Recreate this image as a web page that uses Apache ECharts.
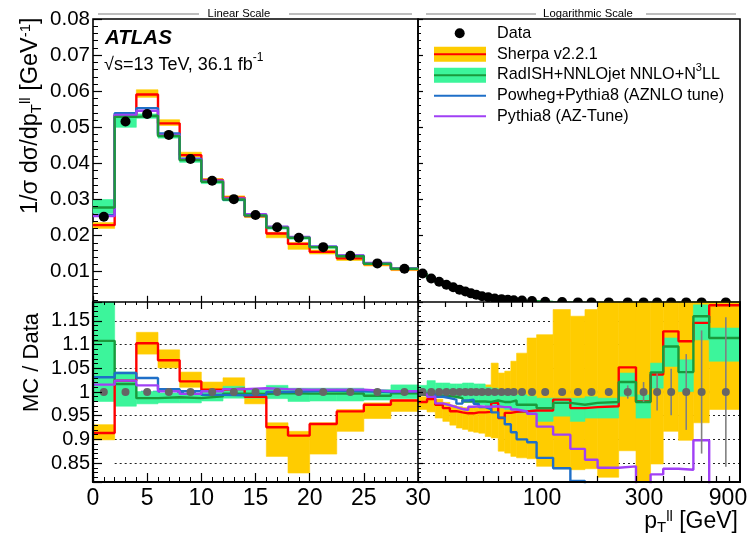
<!DOCTYPE html>
<html><head><meta charset="utf-8">
<script src="https://cdn.jsdelivr.net/npm/echarts@6/dist/echarts.min.js"></script>
<style>html,body{margin:0;padding:0;background:#fff}#c{width:752px;height:541px}</style>
</head><body><div id="c"></div>
<script>
// ---------------- data ----------------
const edgesLin = [0,2,4,6,8,10,12,14,16,18,20,22.5,25,27.5,30];
const edgesLog = [30,33,36,39,42,45,48,51,54,57,61,65,70,75,80,85,95,105,125,150,175,200,250,300,350,400,470,550,650,900];

// upper panel: 1/sigma dsigma/dpT
const dataLin = [0.0252,0.0516,0.0537,0.0479,0.0412,0.0352,0.0301,0.0257,0.0223,0.0194,0.0168,0.0144,0.0123,0.0108];
const dataLog = [0.0095,0.0081,0.0072,0.0064,0.0057,0.0050,0.0045,0.0040,0.0036,0.0032,0.0029,0.0026,0.0024,0.0022,0.0021,0.0020,0.0019,0.0017,0.0016,0.0015,0.0015,0.0015,0.0015,0.0015,0.0015,0.0015,0.0015,0.0015,0.0015];
const topSherpa   = [0.0229,0.0534,0.0591,0.0511,0.0423,0.0354,0.0305,0.0254,0.0206,0.0177,0.0155,0.0137,0.0121,0.0107];
const topSherpaLo = [0.0220,0.0524,0.0583,0.0505,0.0418,0.0349,0.0300,0.0250,0.0194,0.0162,0.0149,0.0131,0.0116,0.0103];
const topSherpaHi = [0.0236,0.0539,0.0604,0.0521,0.0431,0.0358,0.0310,0.0259,0.0209,0.0181,0.0160,0.0142,0.0123,0.0109];
const topRadish   = [0.0278,0.0529,0.0532,0.0476,0.0409,0.0349,0.0300,0.0256,0.0222,0.0194,0.0168,0.0143,0.0122,0.0108];
const topRadishLo = [0.0262,0.0500,0.0525,0.0470,0.0403,0.0344,0.0296,0.0252,0.0218,0.0190,0.0165,0.0141,0.0120,0.0106];
const topRadishHi = [0.0300,0.0534,0.0537,0.0480,0.0413,0.0353,0.0304,0.0260,0.0226,0.0197,0.0171,0.0146,0.0124,0.0110];
const topPowheg   = [0.0257,0.0539,0.0553,0.0483,0.0413,0.0350,0.0299,0.0256,0.0223,0.0195,0.0169,0.0144,0.0123,0.0108];
const topPythia   = [0.0254,0.0534,0.0546,0.0479,0.0410,0.0352,0.0303,0.0259,0.0225,0.0196,0.0169,0.0145,0.0124,0.0109];
const topRadishLog = [0.0094,0.0081,0.0071,0.0063,0.0056,0.0049,0.0044,0.0039,0.0035,0.0031,0.0028,0.0025,0.0023,0.0021,0.0020,0.0019,0.0018,0.0016,0.0015,0.0014,0.0014,0.0014,0.0014,0.0014,0.0014,0.0014,0.0014,0.0014,0.0014];

// lower panel: MC / Data
const rSherpaLin   = [0.9135,1.024,1.103,1.067,1.0225,1.005,1.007,0.990,0.9255,0.908,0.9325,0.959,0.973,0.982];
const rSherpaLoLin = [0.899,1.015,1.080,1.051,1.010,1.001,0.998,0.975,0.864,0.829,0.869,0.917,0.944,0.959];
const rSherpaHiLin = [0.931,1.040,1.126,1.089,1.042,1.021,1.030,1.000,0.935,0.917,0.935,0.963,0.977,0.984];
const rRadishLin   = [1.108,1.017,0.987,0.989,0.987,0.991,0.9965,0.996,0.998,0.9965,0.9965,0.997,0.992,0.997];
const rRadishLoLin = [0.980,0.970,0.975,0.977,0.977,0.981,0.987,0.987,0.986,0.980,0.981,0.981,0.983,0.986];
const rRadishHiLin = [1.200,1.042,1.001,0.998,0.996,1.001,1.012,1.005,1.014,1.008,1.008,1.008,1.005,1.015];
const rPowhegLin   = [1.031,1.040,1.0295,1.006,1.0015,0.994,0.993,0.994,1.000,1.0015,1.003,1.0015,1.000,1.0015];
const rPythiaLin   = [1.0155,1.024,1.014,1.0015,0.996,1.0015,1.006,1.008,1.006,1.005,1.005,1.005,1.0015,1.0015];

const rSherpaLog   = [0.979,0.985,0.973,0.966,0.9595,0.957,0.955,0.955,0.957,0.957,0.958,0.977,0.945,0.956,0.958,0.959,0.961,0.961,0.984,0.966,0.968,0.970,1.052,0.980,1.037,1.128,1.107,1.146,1.183];
const rSherpaLoLog = [0.963,0.958,0.945,0.938,0.930,0.924,0.921,0.917,0.915,0.913,0.906,0.903,0.875,0.871,0.864,0.861,0.859,0.843,0.838,0.836,0.838,0.820,0.876,0.800,0.848,0.917,0.898,0.935,0.963];
const rSherpaHiLog = [0.990,0.997,0.985,0.978,0.972,0.969,0.967,0.967,0.969,0.969,1.015,1.061,1.040,1.044,1.065,1.082,1.114,1.121,1.174,1.160,1.174,1.200,1.200,1.200,1.200,1.200,1.200,1.200,1.200];
const rRadishLog   = [0.994,0.995,0.992,0.991,0.990,0.987,0.980,0.980,0.980,0.980,0.979,0.982,0.979,0.979,0.982,0.973,0.973,0.966,0.977,0.973,0.977,0.979,1.021,0.979,1.0415,1.096,1.042,1.160,1.114];
const rRadishLoLog = [0.994,0.994,0.994,0.994,0.990,0.987,0.980,0.980,0.975,0.973,0.970,0.970,0.966,0.963,0.963,0.956,0.952,0.938,0.949,0.938,0.945,0.945,0.991,0.945,1.008,1.054,1.001,1.110,1.065];
const rRadishHiLog = [1.014,1.024,1.019,1.019,1.017,1.017,1.019,1.019,1.017,1.017,1.010,1.008,1.005,1.001,1.001,0.994,0.991,0.987,0.987,0.987,0.990,0.987,1.040,0.994,1.061,1.114,1.068,1.184,1.135];
const rPowhegLog   = [0.997,0.996,0.990,0.987,0.984,0.9755,0.982,0.984,0.975,0.968,0.964,0.957,0.946,0.932,0.915,0.900,0.894,0.861,0.839,0.812,0.790,0.770,0.750,0.740,0.730,0.720,0.710,0.700,0.700];
const rPythiaLog   = [0.996,0.990,0.976,0.972,0.968,0.964,0.962,0.969,0.970,0.969,0.969,0.970,0.968,0.968,0.963,0.959,0.954,0.927,0.910,0.880,0.857,0.840,0.843,0.790,0.826,0.838,0.836,0.898,0.790];
const dataErrLog   = [0.002,0.002,0.002,0.002,0.002,0.002,0.002,0.002,0.002,0.002,0.002,0.002,0.003,0.003,0.003,0.003,0.003,0.004,0.004,0.005,0.006,0.008,0.014,0.021,0.039,0.049,0.080,0.130,0.158];

// tick labels
const topYTicks   = [0.01,0.02,0.03,0.04,0.05,0.06,0.07,0.08];
const ratioYTicks = [0.85,0.9,0.95,1,1.05,1.1,1.15];
const ratioGridLines = [0.85,0.9,0.95,1.05,1.1,1.15];
const logXLabels  = [100,300,900];
const logXTicks   = [40,50,60,70,80,90,100,200,300,400,500,600,700,800];

// ---------------- styling ----------------
const FONT = "'Liberation Sans', Arial, Helvetica, sans-serif";
const C = {sherpa:'#ff0000', sherpaBand:'#ffcc00', radish:'#1a9a3c', radishBand:'#3cf59b',
           powheg:'#1f6fc8', pythia:'#a040f5', ratioPt:'#666666', err:'#808080'};

const centers = e => e.slice(0,-1).map((v,i)=>(v+e[i+1])/2);
const stepData = (e,v) => { const d = v.map((y,i)=>[e[i],y]); d.push([e[e.length-1], v[v.length-1]]); return d; };

function band(xi, yi, edges, lo, hi, color, z){
  return {type:'custom', xAxisIndex:xi, yAxisIndex:yi, z, silent:true, animation:false,
    data: lo.map((l,i)=>[edges[i], edges[i+1], l, hi[i]]),
    encode:{x:[0,1], y:[2,3]},
    renderItem(params, api){
      const p0 = api.coord([api.value(0), api.value(3)]);
      const p1 = api.coord([api.value(1), api.value(2)]);
      const cs = params.coordSys;
      const shape = echarts.graphic.clipRectByRect(
        {x:p0[0], y:p0[1], width:p1[0]-p0[0], height:p1[1]-p0[1]},
        {x:cs.x, y:cs.y, width:cs.width, height:cs.height});
      return shape && {type:'rect', shape, style:{fill:color, stroke:color, lineWidth:0.6}};
    }};
}
function step(xi, yi, edges, vals, color, z, w){
  return {type:'line', step:'end', xAxisIndex:xi, yAxisIndex:yi, z, silent:true, animation:false,
    data: stepData(edges, vals), showSymbol:false, symbol:'none', clip:true,
    lineStyle:{color, width:w||2.4}};
}
function points(xi, yi, edges, vals, color, size, z){
  const cx = centers(edges);
  return {type:'scatter', xAxisIndex:xi, yAxisIndex:yi, z, silent:true, animation:false,
    data: vals.map((v,i)=>[cx[i], v]), symbol:'circle', symbolSize:size,
    itemStyle:{color, opacity:1}};
}
function errBars(xi, yi, edges, errs, z){
  const cx = centers(edges);
  return {type:'custom', xAxisIndex:xi, yAxisIndex:yi, z, silent:true, animation:false,
    data: errs.map((e,i)=>[cx[i], 1-e, 1+e]),
    renderItem(params, api){
      const a = api.coord([api.value(0), api.value(1)]);
      const b = api.coord([api.value(0), api.value(2)]);
      const cs = params.coordSys;
      const y1 = Math.max(cs.y, Math.min(cs.y+cs.height, a[1]));
      const y2 = Math.max(cs.y, Math.min(cs.y+cs.height, b[1]));
      return {type:'line', shape:{x1:a[0], y1, x2:a[0], y2}, style:{stroke:C.err, lineWidth:1.6}};
    }};
}
function gridLines(xi, yi, x0, x1, z){
  return {type:'line', xAxisIndex:xi, yAxisIndex:yi, z, data:[], silent:true, animation:false,
    markLine:{silent:true, symbol:'none', animation:false, label:{show:false},
      lineStyle:{color:'#222', width:1.2, type:[2,3]},
      data: ratioGridLines.map(v=>[{coord:[x0,v]},{coord:[x1,v]}])}};
}
function unityLine(xi, yi, dashed, z){
  return {type:'line', xAxisIndex:xi, yAxisIndex:yi, z, data:[], silent:true, animation:false,
    markLine:{silent:true, symbol:'none', animation:false, label:{show:false},
      lineStyle:{color:C.powheg, width:2.4, type: dashed ? [7,5] : 'solid'},
      data:[{yAxis:1}]}};
}

const tick = (len, extra) => Object.assign({show:true, inside:true, length:len, lineStyle:{color:'#000', width:1.2}}, extra||{});
const minor = (len, n) => ({show:true, splitNumber:n||5, length:len, lineStyle:{color:'#000', width:1}});
const noLine = {show:false};
const frameLine = w => ({show:true, onZero:false, lineStyle:{color:'#000', width:w||2}});

const xAxis = [
  {gridIndex:0, type:'value', min:0, max:30, interval:5, axisLine:noLine, axisLabel:{show:false},
   axisTick:tick(12), minorTick:minor(6), splitLine:{show:false}, z:3},
  {gridIndex:1, type:'log', min:30, max:900, axisLine:noLine, axisLabel:{show:false},
   axisTick:tick(6,{customValues:logXTicks}), splitLine:{show:false}, z:3},
  {gridIndex:2, type:'value', position:'bottom', min:0, max:30, interval:5, axisLine:frameLine(2.2),
   axisLabel:{fontSize:23, color:'#000', fontFamily:FONT, margin:5},
   axisTick:tick(9), minorTick:minor(5), splitLine:{show:false}, z:10},
  {gridIndex:3, type:'log', position:'bottom', min:30, max:900, axisLine:frameLine(2.2),
   axisLabel:{customValues:logXLabels, color:'#000', fontFamily:FONT, fontSize:23, margin:5,
     formatter: v => { const r = Math.round(v); return '{' + (r===100?'a':(r===300?'b':'c')) + '|' + r + '}'; },
     rich:{a:{fontSize:23, fontFamily:FONT, color:'#000', padding:[0,0,0,20]},
           b:{fontSize:23, fontFamily:FONT, color:'#000', padding:[0,0,0,16]},
           c:{fontSize:23, fontFamily:FONT, color:'#000', padding:[0,24,0,0]}}},
   axisTick:tick(6,{customValues:logXTicks}), splitLine:{show:false}, z:10},
  {gridIndex:2, type:'value', position:'top', min:0, max:30, interval:5, axisLine:frameLine(1.6),
   axisLabel:{show:false}, axisTick:tick(7), minorTick:minor(3), splitLine:{show:false}, z:10},
  {gridIndex:3, type:'log', position:'top', min:30, max:900, axisLine:frameLine(1.6),
   axisLabel:{show:false}, axisTick:tick(5,{customValues:logXTicks}), splitLine:{show:false}, z:10}
];
const yAxis = [
  {gridIndex:0, type:'value', min:0, max:0.08, interval:0.01, axisLine:noLine,
   axisLabel:{fontSize:20.5, color:'#000', fontFamily:FONT, margin:3, showMinLabel:false,
     formatter: v => topYTicks.some(t=>Math.abs(t-v)<1e-9) ? v.toFixed(2) : ''},
   axisTick:tick(9), minorTick:minor(5), splitLine:{show:false}, z:3},
  {gridIndex:1, type:'value', min:0, max:0.08, interval:0.01, axisLine:noLine, axisLabel:{show:false},
   axisTick:tick(5), minorTick:minor(3), splitLine:{show:false}, z:3},
  {gridIndex:2, type:'value', position:'left', min:0.81, max:1.19, splitNumber:8, axisLine:frameLine(2.2),
   axisLabel:{customValues:ratioYTicks, fontSize:20, color:'#000', fontFamily:FONT, margin:3},
   axisTick:tick(9), minorTick:minor(5), splitLine:{show:false}, z:10},
  {gridIndex:3, type:'value', position:'left', min:0.81, max:1.19, splitNumber:8, axisLine:frameLine(1.6),
   axisLabel:{show:false}, axisTick:tick(5), minorTick:minor(3), splitLine:{show:false}, z:10},
  {gridIndex:3, type:'value', position:'right', min:0.81, max:1.19, splitNumber:8, axisLine:frameLine(2),
   axisLabel:{show:false}, axisTick:{show:false}, splitLine:{show:false}, z:10}
];

const series = [
  // upper linear
  band(0,0,edgesLin,topSherpaLo,topSherpaHi,C.sherpaBand,1),
  band(0,0,edgesLin,topRadishLo,topRadishHi,C.radishBand,1),
  step(0,0,edgesLin,topSherpa,C.sherpa,2),
  step(0,0,edgesLin,topPowheg,C.powheg,2),
  step(0,0,edgesLin,topPythia,C.pythia,2),
  step(0,0,edgesLin,topRadish,C.radish,2),
  points(0,0,edgesLin,dataLin,'#000',10,3),
  // upper log
  step(1,1,edgesLog,topRadishLog,C.radish,2),
  points(1,1,edgesLog,dataLog,'#000',10,3),
  // lower linear
  gridLines(2,2,2,30,5),
  band(2,2,edgesLin,rSherpaLoLin,rSherpaHiLin,C.sherpaBand,6),
  band(2,2,edgesLin,rRadishLoLin,rRadishHiLin,C.radishBand,6),
  step(2,2,edgesLin,rSherpaLin,C.sherpa,7),
  step(2,2,edgesLin,rRadishLin,C.radish,7),
  step(2,2,edgesLin,rPowhegLin,C.powheg,7),
  step(2,2,edgesLin,rPythiaLin,C.pythia,7),
  unityLine(2,2,true,8),
  points(2,2,edgesLin,dataLin.map(v=>v/v),C.ratioPt,8,9),
  // lower log
  gridLines(3,3,30,900,5),
  band(3,3,edgesLog,rSherpaLoLog,rSherpaHiLog,C.sherpaBand,6),
  band(3,3,edgesLog,rRadishLoLog,rRadishHiLog,C.radishBand,6),
  step(3,3,edgesLog,rSherpaLog,C.sherpa,7),
  step(3,3,edgesLog,rRadishLog,C.radish,7),
  step(3,3,edgesLog,rPowhegLog,C.powheg,7),
  step(3,3,edgesLog,rPythiaLog,C.pythia,7),
  unityLine(3,3,false,8),
  errBars(3,3,edgesLog,dataErrLog,9),
  points(3,3,edgesLog,dataLog.map(v=>v/v),C.ratioPt,8,9)
];

// ---------------- texts & legend ----------------
const sup = {fontSize:13, fontFamily:FONT, color:'#000', verticalAlign:'top', lineHeight:26};
const sub = {fontSize:13, fontFamily:FONT, color:'#000', verticalAlign:'bottom', lineHeight:26};
function txt(x, y, text, size, opts){
  const o = opts || {};
  return Object.assign({type:'text', x, y, z:20, silent:true, rotation:o.rotation||0,
    style:{text, fill:'#000', fontSize:size, fontFamily:FONT, fontWeight:o.weight||'normal',
      fontStyle:o.style||'normal', align:o.align||'left', textAlign:o.align||'left',
      verticalAlign:'middle', textVerticalAlign:'middle',
      rich: o.rich ? {n:{fontSize:size, fontFamily:FONT, color:'#000', lineHeight:26}, sup:Object.assign({},sup,{fontSize:o.supSize||13}), sub:Object.assign({},sub,{fontSize:o.supSize||13})} : undefined}});
}
const hline = (x1,x2,y,color,w) => ({type:'line', z:20, silent:true, shape:{x1,y1:y,x2,y2:y}, style:{stroke:color, lineWidth:w}});
const rect = (x,y,w,h,fill) => ({type:'rect', z:19, silent:true, shape:{x,y,width:w,height:h}, style:{fill}});

const graphic = [
  // region headers
  hline(98,199,14,'#a8a8a8',1.6), hline(289,412,14,'#a8a8a8',1.6),
  txt(239,14,'Linear Scale',11.3,{align:'center'}),
  hline(426,536,14,'#a8a8a8',1.6), hline(646,736,14,'#a8a8a8',1.6),
  txt(588,14,'Logarithmic Scale',11.3,{align:'center'}),
  // ATLAS labels
  txt(105,38,'ATLAS',20.5,{weight:'bold', style:'italic'}),
  txt(104,65,'{n|√s=13 TeV, 36.1 fb}{sup|-1}',18,{rich:true, supSize:12}),
  // legend
  {type:'circle', z:20, silent:true, shape:{cx:459.7, cy:33.3, r:5}, style:{fill:'#000'}},
  txt(497,33.5,'Data',16.2),
  rect(434,46.7,52,15,C.sherpaBand), hline(434,486,54.2,C.sherpa,2),
  txt(497,54.5,'Sherpa v2.2.1',16.2),
  rect(434,67.7,52,15,C.radishBand), hline(434,486,75.2,C.radish,2),
  txt(497,75,'{n|RadISH+NNLOjet NNLO+N}{sup|3}{n|LL}',16.2,{rich:true, supSize:11}),
  hline(434,486,95.7,C.powheg,2), txt(497,95.7,'Powheg+Pythia8 (AZNLO tune)',16.2),
  hline(434,486,116.2,C.pythia,2), txt(497,116.2,'Pythia8 (AZ-Tune)',16.2),
  // axis titles
  txt(31,214,'{n|1/σ dσ/dp}{sub|T}{sup|ll}{n| [GeV}{sup|-1}{n|]}',23.5,{rich:true, rotation:Math.PI/2, supSize:15}),
  txt(32,412,'MC / Data',22,{rotation:Math.PI/2}),
  txt(738,522,'{n|p}{sub|T}{sup|ll}{n| [GeV]}',23,{rich:true, align:'right', supSize:15})
];

const chart = echarts.init(document.getElementById('c'), null, {renderer:'canvas'});
chart.setOption({
  animation:false,
  backgroundColor:'#fff',
  grid:[
    {left:93, top:19, width:325, height:288.8, show:true, borderColor:'#000', borderWidth:1.6, z:0},
    {left:418, top:19, width:322, height:288.8, show:true, borderColor:'#000', borderWidth:1.6, z:0},
    {left:93, top:302, width:325, height:180, show:true, backgroundColor:'#fff', borderWidth:0, z:4},
    {left:418, top:302, width:322, height:180, show:true, backgroundColor:'#fff', borderWidth:0, z:4}
  ],
  xAxis, yAxis, series, graphic
});
</script></body></html>
